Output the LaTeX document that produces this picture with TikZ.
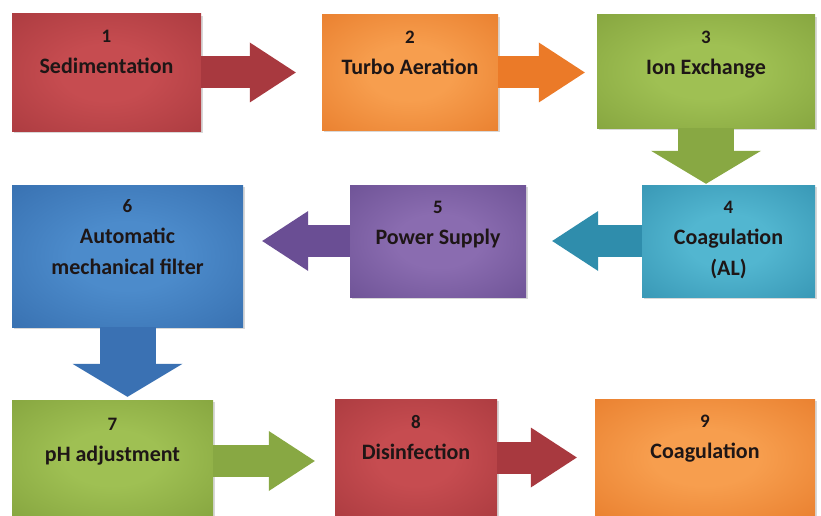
\documentclass[tikz,border=0pt]{standalone}
\usepackage{fontspec}
\setmainfont{Carlito}
\usetikzlibrary{arrows.meta,shadows,calc}
\makeatletter
\pgfdeclareradialshading[tikz@radial@inner,tikz@radial@outer]{softradial}{\pgfpoint{0bp}{0bp}}{color(0bp)=(tikz@radial@inner); color(12bp)=(tikz@radial@inner); color(50bp)=(tikz@radial@outer)}
\makeatother
\definecolor{redin}{HTML}{C64C50}\definecolor{redout}{HTML}{9E3338}
\definecolor{orin}{HTML}{F79E4E}\definecolor{orout}{HTML}{E2701F}
\definecolor{grin}{HTML}{9FC053}\definecolor{grout}{HTML}{799735}
\definecolor{tein}{HTML}{52B6D0}\definecolor{teout}{HTML}{2A86A6}
\definecolor{puin}{HTML}{8A6CB0}\definecolor{puout}{HTML}{5F4588}
\definecolor{blin}{HTML}{4C8BCB}\definecolor{blout}{HTML}{2D62A2}
\definecolor{txtdark}{HTML}{1E1616}
\definecolor{redarr}{HTML}{A8393F}
\definecolor{orarr}{HTML}{EB7A28}
\definecolor{grarr}{HTML}{88A843}
\definecolor{tearr}{HTML}{2F8DAC}
\definecolor{puarr}{HTML}{6A4E94}
\definecolor{blarr}{HTML}{3A71B3}
\newcommand\stepnum{\fontsize{19}{31}\selectfont}
\tikzset{
  box/.style={rectangle, inner sep=0pt, shade, inner color=#1in, outer color=#1out, shading=softradial,
    drop shadow={shadow xshift=1.5pt, shadow yshift=-2pt, opacity=0.3}},
  txt/.style={anchor=north, align=center, inner sep=0pt, text=txtdark,
    font=\fontsize{22}{31}\selectfont\bfseries},
  harrow/.style={line width=32pt, draw=#1, -{Triangle[width=60pt,length=46pt,line width=0pt]}},
  varrow/.style={line width=56pt, draw=#1, -{Triangle[width=110pt,length=33pt,line width=0pt]}}
}
\begin{document}
\begin{tikzpicture}[x=1pt,y=-1pt]
\useasboundingbox (0,0) rectangle (821,516);
\fill[white] (0,0) rectangle (821,516);
% boxes
\node[box=red, minimum width=189pt, minimum height=117pt] (b1) at (106.5,72.5) {};
\node[box=or,  minimum width=176pt, minimum height=115pt] (b2) at (410,72.5) {};
\node[box=gr,  minimum width=218pt, minimum height=113pt] (b3) at (706,71.5) {};
\node[box=te,  minimum width=173pt, minimum height=112pt] (b4) at (728.5,241) {};
\node[box=pu,  minimum width=176pt, minimum height=112pt] (b5) at (438,241) {};
\node[box=bl,  minimum width=231pt, minimum height=142pt] (b6) at (127.5,256) {};
\node[box=gr,  minimum width=201pt, minimum height=116pt] (b7) at (112.5,458) {};
\node[box=red, minimum width=162pt, minimum height=117pt] (b8) at (416,457.5) {};
\node[box=or,  minimum width=220pt, minimum height=117pt] (b9) at (705,457.5) {};
% texts
\node[txt] (t1) at ($(b1.north)+(0,16)$) {{\stepnum 1}\\Sedimentation};
\node[txt] (t2) at ($(b2.north)+(0,16)$) {{\stepnum 2}\\Turbo Aeration};
\node[txt] (t3) at ($(b3.north)+(0,16)$) {{\stepnum 3}\\Ion Exchange};
\node[txt] (t4) at ($(b4.north)+(0,16)$) {{\stepnum 4}\\Coagulation\\(AL)};
\node[txt] (t5) at ($(b5.north)+(0,16)$) {{\stepnum 5}\\Power Supply};
\node[txt] (t6) at ($(b6.north)+(0,14.5)$) {{\stepnum 6}\\Automatic\\mechanical filter};
\node[txt] (t7) at ($(b7.north)+(0,18.5)$) {{\stepnum 7}\\pH adjustment};
\node[txt] (t8) at ($(b8.north)+(0,16.5)$) {{\stepnum 8}\\Disinfection};
\node[txt] (t9) at ($(b9.north)+(0,16.5)$) {{\stepnum 9}\\Coagulation};
% connectors
\draw[harrow=redarr, shorten >=26pt] (b1.east) -- (b2.west);
\draw[harrow=orarr, shorten >=12pt] (b2.east) -- (b3.west |- b2.east);
\draw[varrow=grarr, shorten >=1pt] (b3.south) -- (b3.south |- b4.north);
\draw[harrow=tearr, shorten >=26pt] (b4.west) -- (b5.east);
\draw[harrow=puarr, shorten >=19pt] (b5.west) -- (b5.west -| b6.east);
\draw[varrow=blarr, shorten >=3pt] (b6.south) -- (b6.south |- b7.north);
\draw[harrow=grarr, shorten >=20pt] ($(b7.east)+(0,3)$) -- ($(b8.west)+(0,3.5)$);
\draw[harrow=redarr, shorten >=18pt] (b8.east) -- (b9.west);
\end{tikzpicture}
\end{document}
